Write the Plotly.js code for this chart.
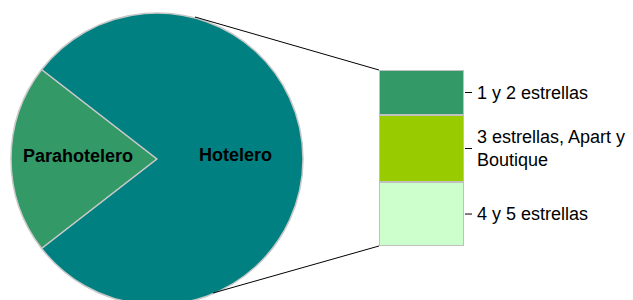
<!DOCTYPE html>
<html>
<head>
<meta charset="utf-8">
<script src="https://cdn.plot.ly/plotly-3.0.1.min.js"></script>
<style>html,body{margin:0;padding:0;overflow:hidden;background:#fff;}#chart{width:633px;height:310px;}</style>
</head>
<body>
<div id="chart"></div>
<script>
// Data
var pieLabels = ["Parahotelero", "Hotelero"];
var pieValues = [21, 79];
var barLabels = ["1 y 2 estrellas", "3 estrellas, Apart y<br>Boutique", "4 y 5 estrellas"];
var barValues = [20.2, 30.1, 28.7];
var pieColors = ["#339966", "#008080"];
var barColors = ["#339966", "#99cc00", "#ccffcc"];

var W = 633, H = 310;
function px(x) { return x / W; }
function py(y) { return (H - y) / H; }

var pieTotal = pieValues[0] + pieValues[1];
var frac0 = pieValues[0] / pieTotal;

var traces = [];
traces.push({
  type: "pie",
  labels: pieLabels,
  values: pieValues,
  sort: false,
  direction: "counterclockwise",
  rotation: 270 - frac0 * 180,
  textinfo: "none",
  hoverinfo: "label+value",
  marker: { colors: pieColors, line: { color: "#c8c8c8", width: 1.5 } },
  domain: { x: [px(11), px(303)], y: [py(305), py(13)] },
  showlegend: false
});

// stacked bar, top item first -> reversed order for stacking from bottom
var barSum = barValues.reduce(function (a, b) { return a + b; }, 0);
for (var i = barValues.length - 1; i >= 0; i--) {
  traces.push({
    type: "bar",
    x: [0],
    y: [barValues[i]],
    width: [1],
    name: barLabels[i],
    marker: { color: barColors[i], line: { color: "#c0c0c0", width: 1.5 } },
    cliponaxis: false,
    showlegend: false,
    hoverinfo: "name+y"
  });
}

var annotations = [];
var shapes = [];
var lblFont = { family: "Liberation Sans, Arial, sans-serif", size: 18, color: "#000" };
// pie labels
annotations.push({ xref: "paper", yref: "paper", x: px(78), y: py(156), xanchor: "center", yanchor: "middle",
  text: "<b>" + pieLabels[0] + "</b>", showarrow: false, font: lblFont });
annotations.push({ xref: "paper", yref: "paper", x: px(235), y: py(155), xanchor: "center", yanchor: "middle",
  text: "<b>" + pieLabels[1] + "</b>", showarrow: false, font: lblFont });

// bar labels
var cumVal = barSum;
for (var j = 0; j < barValues.length; j++) {
  var segTop = cumVal, segBottom = cumVal - barValues[j];
  var segMid = (segTop + segBottom) / 2;
  cumVal = segBottom;
  annotations.push({ xref: "paper", yref: "y", x: px(475), y: segMid, xanchor: "left", yanchor: "middle", align: "left",
    text: barLabels[j], showarrow: false, font: lblFont });
  shapes.push({ type: "line", xref: "paper", yref: "y", x0: px(465), x1: px(472), y0: segMid, y1: segMid,
    line: { color: "#000", width: 1 } });
}

// connector lines from pie to bar
shapes.push({ type: "line", xref: "paper", yref: "paper", x0: px(195), y0: py(17), x1: px(379), y1: py(70),
  line: { color: "#000", width: 1 } });
shapes.push({ type: "line", xref: "paper", yref: "paper", x0: px(213), y0: py(293), x1: px(379), y1: py(246),
  line: { color: "#000", width: 1 } });

var layout = {
  width: W, height: H,
  margin: { l: 0, r: 0, t: 0, b: 0 },
  paper_bgcolor: "#fff", plot_bgcolor: "rgba(0,0,0,0)",
  barmode: "stack", bargap: 0,
  xaxis: { domain: [px(379), px(464)], range: [-0.5, 0.5], visible: false, fixedrange: true },
  yaxis: { domain: [py(246), py(70)], range: [0, barSum], visible: false, fixedrange: true },
  annotations: annotations,
  shapes: shapes,
  showlegend: false
};

Plotly.newPlot("chart", traces, layout, { displayModeBar: false, staticPlot: true });
</script>
</body>
</html>
